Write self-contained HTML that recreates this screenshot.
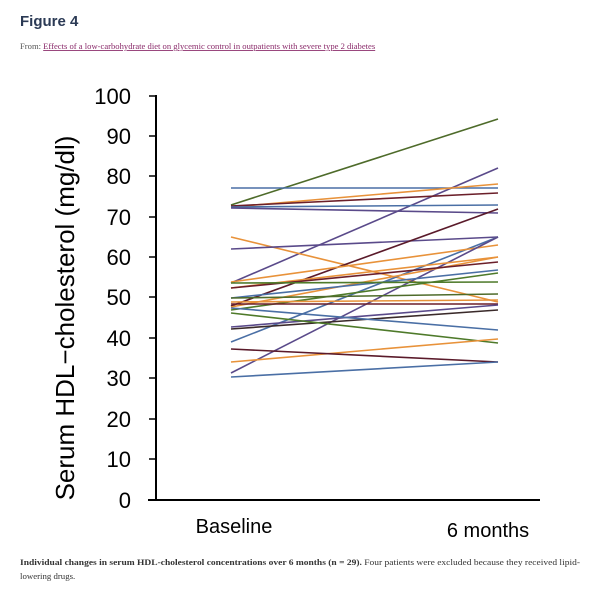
<!DOCTYPE html>
<html><head><style>
body{margin:0;background:#fff;width:600px;height:586px;overflow:hidden;font-family:"Liberation Sans",sans-serif}
</style></head><body>
<svg width="600" height="586" xmlns="http://www.w3.org/2000/svg">
<text x="20" y="26" font-family="Liberation Sans,sans-serif" font-weight="bold" font-size="15" fill="#2b3a55">Figure 4</text>
<text x="20" y="49" font-family="Liberation Serif,serif" font-size="8.6" fill="#555">From: <tspan fill="#8a2a6a" text-decoration="underline">Effects of a low-carbohydrate diet on glycemic control in outpatients with severe type 2 diabetes</tspan></text>
<g stroke="#000" stroke-width="2">
<line x1="156" y1="95" x2="156" y2="501"/>
<line x1="148" y1="500" x2="540" y2="500"/>
<g stroke-width="1.5">
<line x1="149" y1="96" x2="156" y2="96"/><line x1="149" y1="136" x2="156" y2="136"/><line x1="149" y1="176" x2="156" y2="176"/><line x1="149" y1="217" x2="156" y2="217"/><line x1="149" y1="257" x2="156" y2="257"/><line x1="149" y1="297" x2="156" y2="297"/><line x1="149" y1="338" x2="156" y2="338"/><line x1="149" y1="378" x2="156" y2="378"/><line x1="149" y1="419" x2="156" y2="419"/><line x1="149" y1="459" x2="156" y2="459"/>
</g></g>
<g font-family="Liberation Sans,sans-serif" font-size="22" text-anchor="end" fill="#000">
<text x="131" y="104">100</text><text x="131" y="144">90</text><text x="131" y="184">80</text><text x="131" y="225">70</text><text x="131" y="265">60</text><text x="131" y="305">50</text><text x="131" y="346">40</text><text x="131" y="386">30</text><text x="131" y="427">20</text><text x="131" y="467">10</text><text x="131" y="508">0</text>
</g>
<text transform="translate(74,318) rotate(-90)" text-anchor="middle" font-family="Liberation Sans,sans-serif" font-size="26">Serum HDL−cholesterol (mg/dl)</text>
<text x="234" y="533" text-anchor="middle" font-family="Liberation Sans,sans-serif" font-size="20">Baseline</text>
<text x="488" y="537" text-anchor="middle" font-family="Liberation Sans,sans-serif" font-size="20">6 months</text>
<g stroke-width="1.6" fill="none">
<line x1="231" y1="205" x2="498" y2="119" stroke="#4e6b2a"/>
<line x1="231" y1="188" x2="498" y2="188" stroke="#4a6fa5"/>
<line x1="231" y1="283" x2="498" y2="168" stroke="#5a4a8a"/>
<line x1="231" y1="207" x2="498" y2="184" stroke="#e8923a"/>
<line x1="231" y1="206" x2="498" y2="193" stroke="#6b1f2a"/>
<line x1="231" y1="207" x2="498" y2="205" stroke="#4a6fa5"/>
<line x1="231" y1="208" x2="498" y2="213" stroke="#5a4a8a"/>
<line x1="231" y1="237" x2="498" y2="302" stroke="#e8923a"/>
<line x1="231" y1="249" x2="498" y2="237" stroke="#5a4a8a"/>
<line x1="231" y1="306" x2="498" y2="209" stroke="#5a1a2a"/>
<line x1="231" y1="342" x2="498" y2="237" stroke="#4a6fa5"/>
<line x1="231" y1="282" x2="498" y2="245" stroke="#e8923a"/>
<line x1="231" y1="373" x2="498" y2="237" stroke="#5a4a8a"/>
<line x1="231" y1="307" x2="498" y2="257" stroke="#e8923a"/>
<line x1="231" y1="288" x2="498" y2="257" stroke="#e8923a"/>
<line x1="231" y1="288" x2="498" y2="262" stroke="#6b1f2a"/>
<line x1="231" y1="298" x2="498" y2="270" stroke="#4a6fa5"/>
<line x1="231" y1="310" x2="498" y2="273" stroke="#4e7a2a"/>
<line x1="231" y1="283" x2="498" y2="282" stroke="#4e7a2a"/>
<line x1="231" y1="298" x2="498" y2="294" stroke="#4e6b2a"/>
<line x1="231" y1="302" x2="498" y2="300" stroke="#e8923a"/>
<line x1="231" y1="304" x2="498" y2="304" stroke="#6b1f2a"/>
<line x1="231" y1="327" x2="498" y2="305" stroke="#5a4a8a"/>
<line x1="231" y1="329" x2="498" y2="310" stroke="#3a2a2a"/>
<line x1="231" y1="308" x2="498" y2="330" stroke="#4a6fa5"/>
<line x1="231" y1="313" x2="498" y2="343" stroke="#4e7a2a"/>
<line x1="231" y1="362" x2="498" y2="339" stroke="#e8923a"/>
<line x1="231" y1="349" x2="498" y2="362" stroke="#5a1a2a"/>
<line x1="231" y1="377" x2="498" y2="362" stroke="#4a6fa5"/>
</g>
<text x="20" y="565" font-family="Liberation Serif,serif" font-size="8.8" fill="#333" textLength="560" lengthAdjust="spacingAndGlyphs"><tspan font-weight="bold">Individual changes in serum HDL-cholesterol concentrations over 6 months (n = 29).</tspan> Four patients were excluded because they received lipid-</text>
<text x="20" y="579" font-family="Liberation Serif,serif" font-size="8.8" fill="#333">lowering drugs.</text>
</svg>
</body></html>
